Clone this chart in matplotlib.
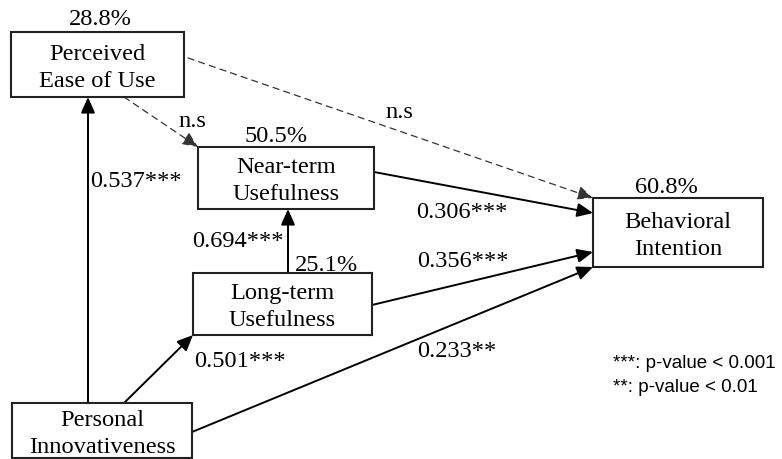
import matplotlib.pyplot as plt
from matplotlib.patches import Rectangle, FancyArrowPatch, ArrowStyle

# constructs and their explained variance (R squared)
constructs = ['Perceived\nEase of Use', 'Near-term\nUsefulness', 'Long-term\nUsefulness',
              'Personal\nInnovativeness', 'Behavioral\nIntention']
r_squared = ['28.8%', '50.5%', '25.1%', '', '60.8%']

# paths: (from, to, coefficient label, significant)
path_from = [3, 3, 2, 1, 2, 3, 0, 0]
path_to = [0, 2, 1, 4, 4, 4, 1, 4]
path_labels = ['0.537***', '0.501***', '0.694***', '0.306***', '0.356***', '0.233**', 'n.s', 'n.s']
path_significant = [True, True, True, True, True, True, False, False]

legend_lines = ['***: p-value < 0.001', '**: p-value < 0.01']

# layout in pixel coordinates (x0, y0, x1, y1)
boxes = [(11, 32, 184, 97), (198, 147, 374, 209), (193, 273, 372, 335),
         (12, 403, 192, 458), (593, 198, 763, 267)]
r2_pos = [(100, 25), (276, 142), (327, 271), None, (666, 193)]
# start / end points of each path
path_xy = [((88, 403), (88, 97)), ((124, 403), (193, 335)), ((288, 273), (288, 209)),
           ((374, 172), (593, 213)), ((372, 305), (593, 252)), ((192, 432), (593, 267)),
           ((124, 97), (198, 147)), ((188, 58), (593, 198))]
label_pos = [(90, 187), (194, 367), (192, 247), (416, 218), (417, 267), (417, 357),
             (178, 127), (385, 118)]

serif = 'Liberation Serif'
fs = 17.6

fig = plt.figure(figsize=(7.82, 4.59), dpi=100)
ax = fig.add_axes([0, 0, 1, 1])
ax.set_xlim(0, 782)
ax.set_ylim(459, 0)
ax.axis('off')

for i, (x0, y0, x1, y1) in enumerate(boxes):
    ax.add_patch(Rectangle((x0, y0), x1 - x0, y1 - y0, fill=False, edgecolor='#222222',
                           linewidth=1.5, zorder=3))
    cx = (x0 + x1) / 2
    cy = (y0 + y1) / 2
    lines = constructs[i].split('\n')
    ax.text(cx, cy - 5, lines[0], ha='center', va='baseline', fontsize=fs, family=serif)
    ax.text(cx, cy + 22.5, lines[1], ha='center', va='baseline', fontsize=fs, family=serif)
    if r2_pos[i] is not None:
        ax.text(r2_pos[i][0], r2_pos[i][1], r_squared[i], ha='center', va='baseline',
                fontsize=fs, family=serif)

style = ArrowStyle('-|>', head_length=0.95, head_width=0.42)
for k in range(len(path_labels)):
    (xa, ya), (xb, yb) = path_xy[k]
    if path_significant[k]:
        arr = FancyArrowPatch((xa, ya), (xb, yb), arrowstyle=style, mutation_scale=10,
                              shrinkA=0, shrinkB=0, color='black', linewidth=1.4, zorder=2)
    else:
        arr = FancyArrowPatch((xa, ya), (xb, yb), arrowstyle=style, mutation_scale=10,
                              shrinkA=0, shrinkB=0, color='#333333', linewidth=0.9,
                              linestyle=(0, (5, 4)), zorder=2)
    ax.add_patch(arr)
    ax.text(label_pos[k][0], label_pos[k][1], path_labels[k], ha='left', va='baseline',
            fontsize=fs, family=serif)

for j, line in enumerate(legend_lines):
    ax.text(613, 368 + j * 24, line, ha='left', va='baseline', fontsize=13.5,
            family='Liberation Sans')

fig.savefig('out.png', dpi=100)
